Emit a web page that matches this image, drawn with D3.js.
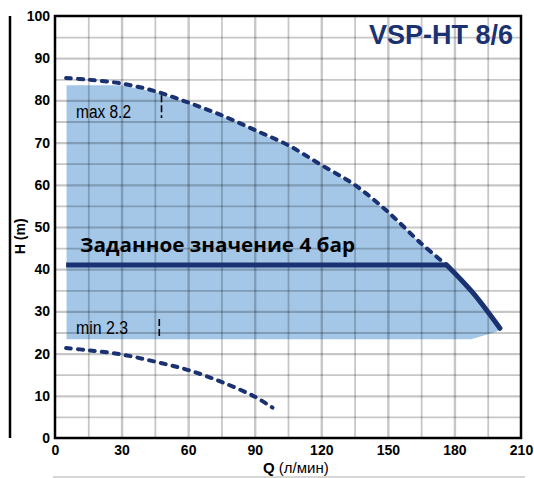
<!DOCTYPE html>
<html><head><meta charset="utf-8">
<script src="https://cdn.jsdelivr.net/npm/d3@7/dist/d3.min.js"></script>
<style>body{margin:0;background:#fff}svg{display:block}</style>
</head><body><svg id="c" width="534" height="478"></svg>
<script>
// ---- data ----
const xTicks = [0, 30, 60, 90, 120, 150, 180, 210];
const yTicks = [0, 10, 20, 30, 40, 50, 60, 70, 80, 90, 100];
const xGrid = [15, 30, 45, 60, 75, 90, 105, 120, 135, 150, 165, 180, 195];
const yGrid = [5, 10, 15, 20, 25, 30, 35, 40, 45, 50, 55, 60, 65, 70, 75, 80, 85, 90, 95];
const maxQ = [5, 15, 30, 45, 60, 75, 90, 105, 120, 135, 150, 165, 176.5];
const maxH = [85.3, 84.9, 84.0, 82.2, 79.5, 76.5, 73.0, 69.4, 64.7, 60.0, 53.6, 46.1, 41.0];
const minQ = [5, 15, 30, 45, 60, 75, 90, 98];
const minH = [21.3, 20.8, 19.8, 18.1, 16.1, 13.3, 9.8, 7.2];
const setQ = [5, 176.5];
const setH = [41, 41];
const tailQ = [176.5, 188, 200.5];
const tailH = [41, 34.6, 26];
const fillQ = [5.2, 30, 45, 60, 75, 90, 105, 120, 135, 150, 165, 176.5, 188.5, 200.8, 199, 187.5, 5.2];
const fillH = [83.6, 83.6, 82.0, 79.3, 76.3, 72.8, 69.2, 64.5, 59.8, 53.4, 45.9, 41.0, 34.6, 26.0, 25.2, 23.4, 23.4];
const title = "VSP-HT 8/6";
const setLabel = "Заданное значение 4 бар";
const maxLabel = "max 8.2", minLabel = "min 2.3";
const maxMarkQ = 48, maxMarkH = [81.2, 75.8];
const minMarkQ = 47, minMarkH = [28.2, 24.0];

// ---- drawing ----
const svg = d3.select("#c");
const x = d3.scaleLinear().domain([0, 210]).range([55, 521]);
const y = d3.scaleLinear().domain([0, 100]).range([438, 16]);
const navy = "#1b3272";
const zip = (a, b) => a.map((v, i) => [v, b[i]]);

// left bar and bottom rule
svg.append("line").attr("x1", 10).attr("x2", 10).attr("y1", y(100)).attr("y2", y(0))
  .attr("stroke", "#000").attr("stroke-width", 2.5);
svg.append("line").attr("x1", 53).attr("x2", 525).attr("y1", 477).attr("y2", 477)
  .attr("stroke", "#c8c8c8").attr("stroke-width", 1.5);

// fill
svg.append("path").datum(zip(fillQ, fillH))
  .attr("d", d3.line().x(d => x(d[0])).y(d => y(d[1])).curve(d3.curveLinearClosed))
  .attr("fill", "#a4c7e8");

// grid
const gx = svg.append("g").attr("transform", `translate(0,${y(0)})`)
  .call(d3.axisBottom(x).tickValues(xGrid).tickSize(-(y(0) - y(100))).tickFormat(""));
gx.select(".domain").remove();
gx.selectAll("line").attr("stroke", "#000").attr("stroke-opacity", 0.22)
  .attr("stroke-width", d => d % 30 === 0 ? 2.4 : 1.8);
const gy = svg.append("g").attr("transform", `translate(${x(0)},0)`)
  .call(d3.axisLeft(y).tickValues(yGrid).tickSize(-(x(210) - x(0))).tickFormat(""));
gy.select(".domain").remove();
gy.selectAll("line").attr("stroke", "#000").attr("stroke-opacity", 0.22)
  .attr("stroke-width", d => d % 10 === 0 ? 2.2 : 1.8);

// frame
svg.append("rect").attr("x", x(0)).attr("y", y(100)).attr("width", x(210) - x(0))
  .attr("height", y(0) - y(100)).attr("fill", "none").attr("stroke", "#000").attr("stroke-width", 2.5);

// curves
const smooth = d3.line().x(d => x(d[0])).y(d => y(d[1])).curve(d3.curveCatmullRom);
svg.append("path").datum(zip(maxQ, maxH)).attr("d", smooth).attr("fill", "none")
  .attr("stroke", navy).attr("stroke-width", 4).attr("stroke-dasharray", "5,7").attr("stroke-linecap", "round");
svg.append("path").datum(zip(minQ, minH)).attr("d", smooth).attr("fill", "none")
  .attr("stroke", navy).attr("stroke-width", 4).attr("stroke-dasharray", "5,7").attr("stroke-linecap", "round");
svg.append("path").datum(zip(setQ, setH))
  .attr("d", d3.line().x(d => x(d[0])).y(d => y(d[1])))
  .attr("fill", "none").attr("stroke", navy).attr("stroke-width", 5);
svg.append("path").datum(zip(tailQ, tailH)).attr("d", smooth)
  .attr("fill", "none").attr("stroke", navy).attr("stroke-width", 5).attr("stroke-linecap", "round");

// markers
[[maxMarkQ, maxMarkH], [minMarkQ, minMarkH]].forEach(([q, h]) => {
  svg.append("line").attr("x1", x(q)).attr("x2", x(q)).attr("y1", y(h[0])).attr("y2", y(h[1]))
    .attr("stroke", "#000").attr("stroke-width", 1.6).attr("stroke-dasharray", "7,3");
});

// texts
const sans = "'Liberation Sans',Arial,sans-serif";
svg.append("text").attr("x", 76).attr("y", 118).text(maxLabel)
  .attr("font-family", sans).attr("font-size", 18).attr("fill", "#000")
  .attr("textLength", 55).attr("lengthAdjust", "spacingAndGlyphs");
svg.append("text").attr("x", 76).attr("y", 334).text(minLabel)
  .attr("font-family", sans).attr("font-size", 18).attr("fill", "#000")
  .attr("textLength", 52).attr("lengthAdjust", "spacingAndGlyphs");
svg.append("text").attr("x", 80).attr("y", 252).text(setLabel)
  .attr("font-family", "'Open Sans','Liberation Sans',sans-serif").attr("font-weight", "bold")
  .attr("font-size", 19).attr("fill", "#000").attr("textLength", 275).attr("lengthAdjust", "spacingAndGlyphs");
svg.append("text").attr("x", 513).attr("y", 44).attr("text-anchor", "end").text(title)
  .attr("font-family", sans).attr("font-weight", "bold")
  .attr("font-size", 27).attr("fill", navy);

// axes labels
const ax = svg.append("g").attr("transform", `translate(0,${y(0)})`)
  .call(d3.axisBottom(x).tickValues(xTicks).tickSize(0).tickPadding(7).tickFormat(d3.format("d")));
ax.select(".domain").remove();
ax.selectAll("text").attr("font-family", sans).attr("font-weight", "bold")
  .attr("font-size", 14).attr("fill", "#000");
const ay = svg.append("g").attr("transform", `translate(${x(0)},0)`)
  .call(d3.axisLeft(y).tickValues(yTicks).tickSize(0).tickPadding(5).tickFormat(d3.format("d")));
ay.select(".domain").remove();
ay.selectAll("text").attr("font-family", sans).attr("font-weight", "bold")
  .attr("font-size", 14).attr("fill", "#000");

const qt = svg.append("text").attr("x", 263).attr("y", 473)
  .attr("font-family", sans).attr("font-size", 15).attr("fill", "#000");
qt.append("tspan").attr("font-weight", "bold").text("Q");
qt.append("tspan").text(" (л/мин)");
svg.append("text").attr("transform", `translate(25,${y(47.8)}) rotate(-90)`).attr("text-anchor", "middle")
  .attr("font-family", sans).attr("font-weight", "bold").attr("font-size", 14)
  .attr("fill", "#000").text("H (m)");
</script></body></html>
